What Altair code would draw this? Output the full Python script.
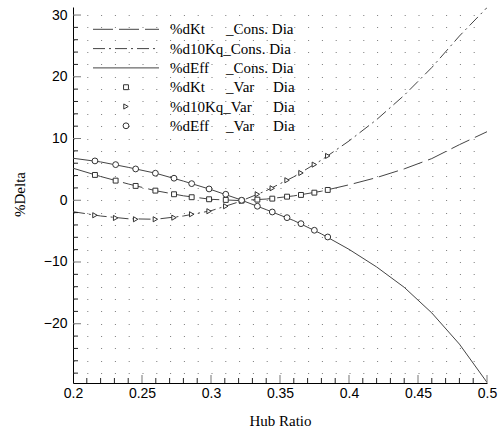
import altair as alt
import pandas as pd

# ---- data ----
hub_line = [0.20, 0.22, 0.24, 0.26, 0.28, 0.30, 0.32, 0.34, 0.36, 0.38, 0.40, 0.42, 0.44, 0.46, 0.48, 0.50]
kt_cons = [5.19, 3.85, 2.64, 1.54, 0.72, 0.15, -0.04, 0.19, 0.71, 1.46, 2.5, 3.67, 5.08, 6.75, 9.0, 11.1]
kq_cons = [-1.85, -2.55, -3.0, -3.08, -2.55, -1.7, -0.28, 1.55, 3.8, 6.5, 9.6, 13.05, 17.0, 21.5, 26.6, 31.2]
eff_cons = [6.8, 6.21, 5.33, 4.37, 3.1, 1.73, 0.19, -1.52, -3.29, -5.45, -7.95, -10.8, -14.1, -18.25, -23.3, -29.5]

hub_var = [0.2159, 0.2309, 0.2454, 0.2597, 0.2732, 0.2860, 0.2986, 0.3107, 0.3222, 0.3336,
           0.3444, 0.3551, 0.3652, 0.3749, 0.3846]
kt_var = [4.10, 3.18, 2.32, 1.56, 0.97, 0.49, 0.16, 0.05, -0.06, 0.10, 0.26, 0.58, 0.86, 1.23, 1.67]
kq_var = [-2.43, -2.87, -3.08, -3.08, -2.82, -2.27, -1.78, -0.97, -0.11, 0.97, 1.94, 3.24, 4.42, 5.77, 7.18]
eff_var = [6.37, 5.77, 5.07, 4.38, 3.57, 2.69, 1.83, 0.97, 0.0, -0.97, -1.90, -2.82, -3.79, -4.86, -5.95]

x_major = [0.2, 0.25, 0.3, 0.35, 0.4, 0.45, 0.5]
x_minor = [round(0.2 + i * 0.01, 2) for i in range(31) if i % 5 != 0]
y_major = [-20, -10, 0, 10, 20, 30]
y_all = list(range(-28, 31, 2))
y_minor = [v for v in y_all if v % 10 != 0]

legend_names = ["%dKt", "%d10Kq_Cons. Dia", "%dEff", "%dKt", "%d10Kq_Var", "%dEff"]
legend_mid = ["_Cons. Dia", "", "_Cons. Dia", "_Var", "", "_Var"]
legend_end = ["", "", "", "Dia", "Dia", "Dia"]

X_DOM = [0.2, 0.5]
Y_DOM = [-29.6, 31.3]
W, H = 414, 376
LINE_C = "#444444"
MARK_C = "#333333"
SERIF = "Liberation Serif"
SANS = "Liberation Sans"

line_df = pd.DataFrame({"hub": hub_line, "kt": kt_cons, "kq": kq_cons, "eff": eff_cons})
var_df = pd.DataFrame({"hub": hub_var, "kt": kt_var, "kq": kq_var, "eff": eff_var})
one = pd.DataFrame({"k": [0]})

xs = alt.Scale(domain=X_DOM, nice=False, zero=False)
ys = alt.Scale(domain=Y_DOM, nice=False, zero=False)

x_lab_axis = alt.Axis(values=x_major, format=".2~f", title="Hub Ratio", ticks=False, tickSize=0,
                      labelPadding=3, labelFlush=False, labelOverlap=False, grid=False,
                      domainColor="black", domainWidth=1, labelFont=SANS, labelFontSize=14,
                      labelColor="black", titleFont=SERIF, titleFontSize=15, titleFontWeight="normal",
                      titleColor="black", titleY=30, titleBaseline="top", orient="bottom")
y_lab_axis = alt.Axis(values=y_all, labelExpr="datum.value % 10 == 0 ? datum.label : ''",
                      title="%Delta", ticks=False, tickSize=0, labelPadding=6, labelFlush=False,
                      labelOverlap=False, grid=True, gridColor="#7a7a7a", gridWidth=1,
                      gridDash=[1, 12.8], domainColor="black", domainWidth=1, labelFont=SANS,
                      labelFontSize=14, labelColor="black", titleFont=SERIF, titleFontSize=15,
                      titleFontWeight="normal", titleColor="black", titleX=-49, titleY=187,
                      titleAngle=270, titleAlign="center", titleBaseline="alphabetic", orient="left")

base = alt.Chart(line_df)
eff_line = base.mark_line(color=LINE_C, strokeWidth=1, clip=True).encode(
    x=alt.X("hub:Q", scale=xs, axis=x_lab_axis),
    y=alt.Y("eff:Q", scale=ys, axis=y_lab_axis))
kt_line = base.mark_line(color=LINE_C, strokeWidth=1, strokeDash=[20, 6], clip=True).encode(
    x=alt.X("hub:Q", scale=xs, axis=None),
    y=alt.Y("kt:Q", scale=ys, axis=None))
kq_line = base.mark_line(color=LINE_C, strokeWidth=1, strokeDash=[12, 4, 2, 4], clip=True).encode(
    x=alt.X("hub:Q", scale=xs, axis=None),
    y=alt.Y("kq:Q", scale=ys, axis=None))

vbase = alt.Chart(var_df)
def pts(col, shape, size):
    return vbase.mark_point(shape=shape, size=size, filled=True, fill="white", stroke=MARK_C,
                            strokeWidth=1, opacity=1).encode(
        x=alt.X("hub:Q", scale=xs, axis=None),
        y=alt.Y(f"{col}:Q", scale=ys, axis=None))

kt_pts = pts("kt", "square", 24)
kq_pts = pts("kq", "triangle-right", 26)
eff_pts = pts("eff", "circle", 34)

# ---- inward tick marks (major and minor) ----
def xticks(vals, length, color):
    return alt.Chart(pd.DataFrame({"v": vals})).mark_tick(
        orient="vertical", size=length, thickness=1, color=color, opacity=1).encode(
        x=alt.X("v:Q", scale=xs, axis=None), y=alt.value(H - length / 2))

def yticks(vals, length, color):
    return alt.Chart(pd.DataFrame({"v": vals})).mark_tick(
        orient="horizontal", size=length, thickness=1, color=color, opacity=1).encode(
        y=alt.Y("v:Q", scale=ys, axis=None), x=alt.value(length / 2))

tick_layers = [xticks(x_minor, 5, "#222222"), xticks(x_major[1:], 8, "#777777"),
               yticks(y_minor, 5, "#222222"), yticks(y_major, 8, "#777777")]

# ---- legend (drawn inside the plot area, top-left) ----
ROW0, DROW = 22.3, 19.3
rows = [ROW0 + i * DROW for i in range(6)]
leg_layers = []
dashes = [[20, 6], [12, 4, 2, 4], None]
for i in range(3):
    kw = dict(color=LINE_C, strokeWidth=1)
    if dashes[i]:
        kw["strokeDash"] = dashes[i]
    leg_layers.append(alt.Chart(one).mark_rule(**kw).encode(
        x=alt.value(20), x2=alt.value(86), y=alt.value(rows[i])))
for i, shp, sz in [(3, "square", 24), (4, "triangle-right", 26), (5, "circle", 34)]:
    leg_layers.append(alt.Chart(one).mark_point(shape=shp, size=sz, filled=True, fill="white",
                                                stroke=MARK_C, strokeWidth=1, opacity=1).encode(
        x=alt.value(53), y=alt.value(rows[i])))
for i in range(6):
    for txt, xp in [(legend_names[i], 97), (legend_mid[i], 153), (legend_end[i], 200)]:
        if txt:
            leg_layers.append(alt.Chart(one).mark_text(
                text=txt, font=SERIF, fontSize=15, fontWeight="normal", color="black",
                align="left", baseline="middle").encode(x=alt.value(xp), y=alt.value(rows[i])))

chart = alt.layer(eff_line, kt_line, kq_line, kt_pts, kq_pts, eff_pts, *tick_layers,
                  *leg_layers).resolve_scale(x="shared", y="shared").resolve_axis(
    x="independent", y="independent").properties(
    width=W, height=H, autosize=alt.AutoSizeParams(type="none"),
    padding={"left": 73, "top": 7, "right": 13, "bottom": 45},
    background="white").configure_view(stroke=None)

chart.save("out.html", embed_options={"renderer": "svg", "actions": False})
